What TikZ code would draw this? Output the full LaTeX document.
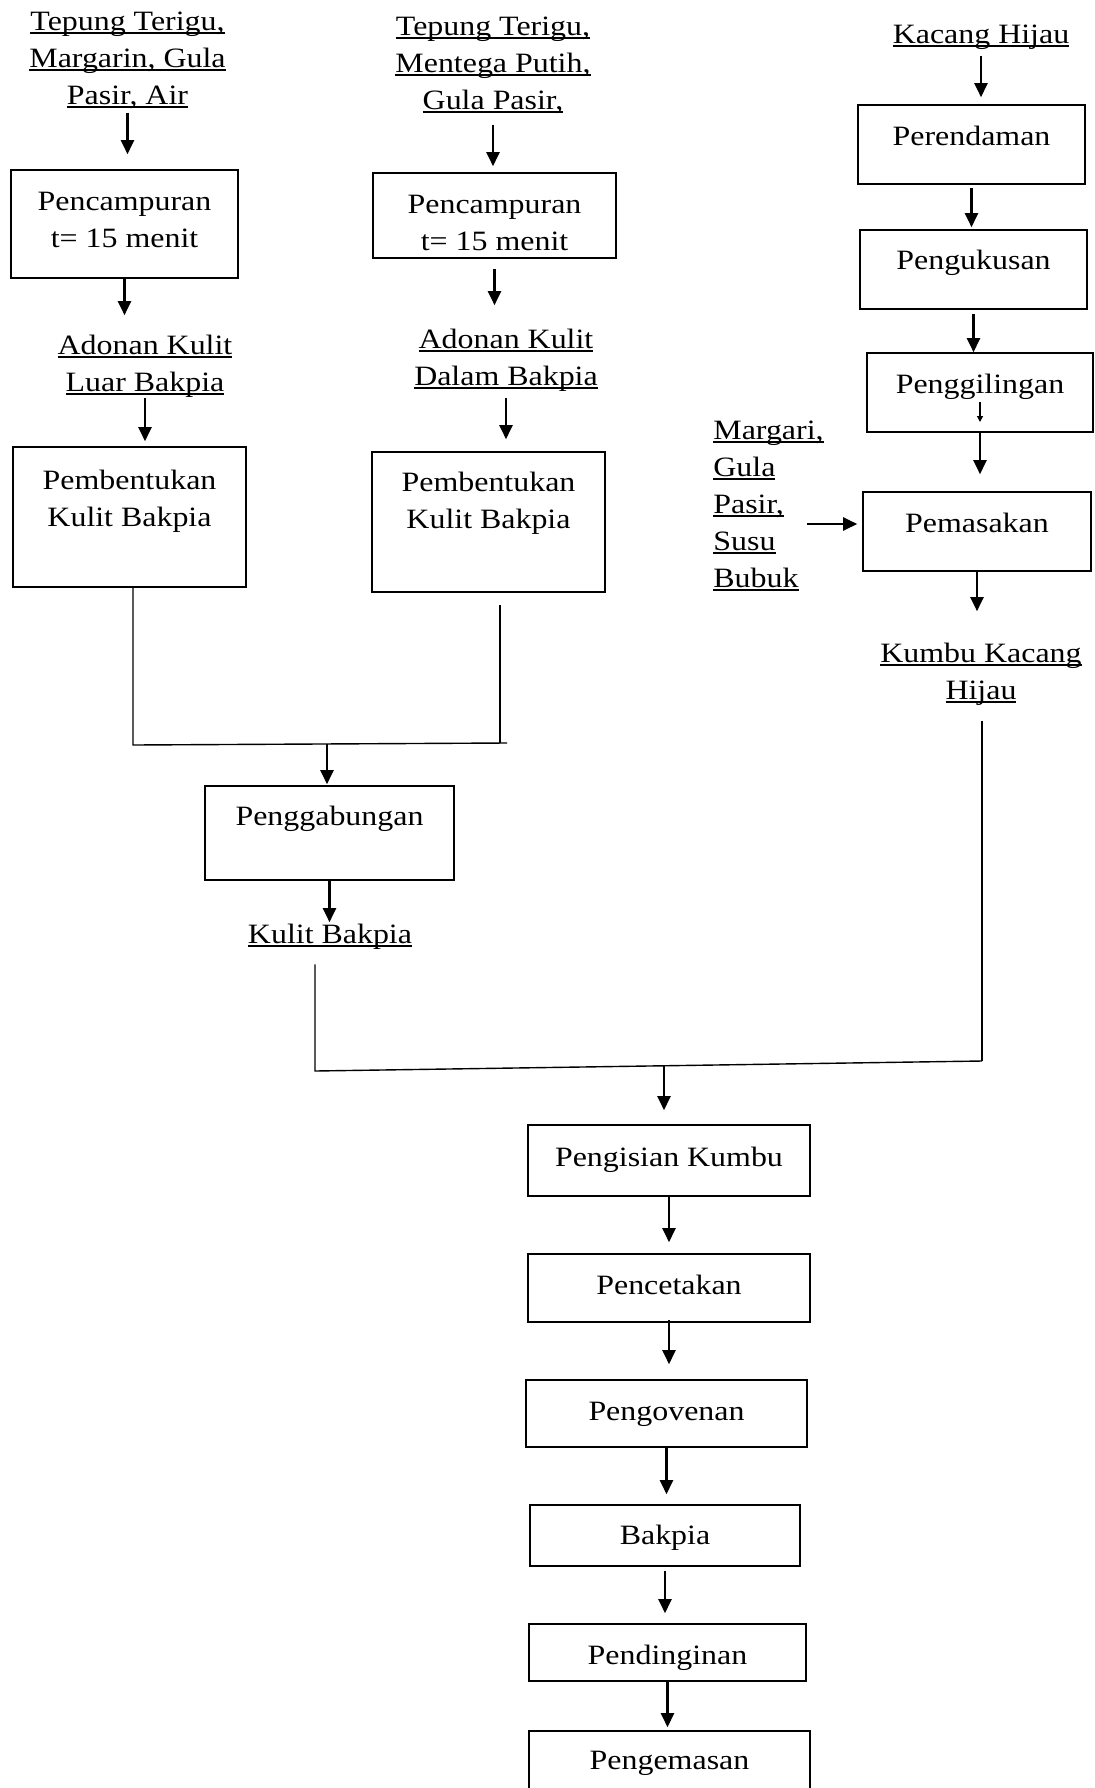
\documentclass[tikz,border=0pt]{standalone}
\usepackage{fontspec}
\setmainfont{Liberation Serif}[FakeStretch=1.14]
\newcommand{\uln}[1]{{\setbox0\hbox{#1}\rlap{\rule[-2.15pt]{\wd0}{1pt}}\box0}}
\usetikzlibrary{arrows.meta, positioning}

\begin{document}
\begin{tikzpicture}[x=0.5pt, y=-0.5pt,
    font=\fontsize{14}{18.5}\selectfont,
    procbox/.style={draw, line width=0.8pt, rectangle, inner sep=0pt, align=center, anchor=base},
    inlabel/.style={inner sep=0pt, align=center, anchor=base},
    arr/.style={-{Triangle[length=7pt,width=6.5pt]}, line width=1.1pt},
    joinline/.style={line width=0.7pt}]
\useasboundingbox (0,0) rectangle (1094,1788);

% Kulit luar (base = last line)
\node[inlabel] (in1) at (127.5,104) {\uln{Tepung Terigu,}\\\uln{Margarin, Gula}\\\uln{Pasir, Air}};
\node[procbox, minimum width=113.5pt, text height=38.5pt, text depth=15.5pt] (campur1) at (124.5,247) {Pencampuran\\t= 15 menit};
\node[inlabel] (adonan1) at (145,391) {\uln{Adonan Kulit}\\\uln{Luar Bakpia}};
\node[procbox, minimum width=116.5pt, text height=39.5pt, text depth=30.5pt] (bentuk1) at (129.5,526) {Pembentukan\\Kulit Bakpia};

\draw[arr, shorten <=2pt, shorten >=7.5pt] (in1.south) -- (in1.south |- campur1.north);
\draw[arr, shorten >=9.5pt] (campur1.south) -- (campur1.south |- adonan1.north);
\draw[arr, shorten <=0.5pt, shorten >=2.5pt] (adonan1.south) -- (adonan1.south |- bentuk1.north);

% Kulit dalam
\node[inlabel] (in2) at (493,109) {\uln{Tepung Terigu,}\\\uln{Mentega Putih,}\\\uln{Gula Pasir,}};
\node[procbox, minimum width=121.5pt, text height=38.5pt, text depth=4pt] (campur2) at (494.5,250) {Pencampuran\\t= 15 menit};
\node[inlabel] (adonan2) at (506,385) {\uln{Adonan Kulit}\\\uln{Dalam Bakpia}};
\node[procbox, minimum width=116.5pt, text height=38pt, text depth=32pt] (bentuk2) at (488.5,528) {Pembentukan\\Kulit Bakpia};

\draw[arr, shorten <=5.5pt, shorten >=3pt] (in2.south) -- (in2.south |- campur2.north);
\draw[arr, shorten <=5pt, shorten >=11.5pt] (campur2.south) -- (campur2.south |- adonan2.north);
\draw[arr, shorten <=3.5pt, shorten >=6pt] (adonan2.south) -- (adonan2.south |- bentuk2.north);

% Penggabungan kulit
\coordinate (j1L) at (133,745);
\coordinate (j1R) at (507,743);
\coordinate (j1V) at (500,743);
\coordinate (j1M) at (327,744);
\node[procbox, minimum width=124.5pt, text height=19.5pt, text depth=27.5pt] (gabung) at (329.5,825) {Penggabungan};
\node[inlabel] (kulit) at (330,943) {\uln{Kulit Bakpia}};

\draw[joinline] (bentuk1.south -| j1L) -- (j1L) -- (j1R);
\draw[joinline, shorten <=6pt] (bentuk2.south -| j1V) -- (j1V);
\draw[arr, shorten >=0.5pt] (j1M) -- (j1M |- gabung.north);
\draw[arr, shorten >=0.5pt] (gabung.south) -- (gabung.south |- kulit.north);

% Kumbu kacang hijau
\node[inlabel] (kacang) at (981,43) {\uln{Kacang Hijau}};
\node[procbox, minimum width=113.5pt, text height=20pt, text depth=19.5pt] (rendam) at (971.5,145) {Perendaman};
\node[procbox, minimum width=113.5pt, text height=19.5pt, text depth=20pt] (kukus) at (973.5,269) {Pengukusan};
\node[procbox, minimum width=113pt, text height=20pt, text depth=19.5pt] (giling) at (980,393) {Penggilingan};
\node[procbox, minimum width=114pt, text height=20pt, text depth=19.5pt] (masak) at (977,532) {Pemasakan};
\node[inlabel, align=left, anchor=base west] (bahan) at (713,587) {\uln{Margari,}\\\uln{Gula}\\\uln{Pasir,}\\\uln{Susu}\\\uln{Bubuk}};
\node[inlabel] (kumbu) at (981,699) {\uln{Kumbu Kacang}\\\uln{Hijau}};
\coordinate (bahanarr) at (807,524);

\draw[arr, shorten <=3.5pt, shorten >=3.5pt] (kacang.south) -- (kacang.south |- rendam.north);
\draw[arr, shorten <=1.5pt, shorten >=1pt] (rendam.south) -- (rendam.south |- kukus.north);
\draw[arr, shorten <=2pt] (kukus.south) -- (kukus.south |- giling.north);
\draw[-{Triangle[length=3pt,width=3pt]}, line width=0.6pt] ([yshift=-4.5pt]giling.base) -- ([yshift=-14.5pt]giling.base);
\draw[arr, shorten >=8.5pt] (giling.south) -- (giling.south |- masak.north);
\draw[arr, shorten >=2.5pt] (bahanarr) -- (bahanarr -| masak.west);
\draw[arr, shorten >=15.5pt] (masak.south) -- (masak.south |- kumbu.north);

% Pengisian sampai pengemasan
\coordinate (j2L) at (315,1071);
\coordinate (j2R) at (982,1061);
\coordinate (j2M) at (664,1066);
\node[procbox, minimum width=141pt, text height=20.5pt, text depth=15pt] (isi) at (669,1166) {Pengisian Kumbu};
\node[procbox, minimum width=141pt, text height=20pt, text depth=14pt] (cetak) at (669,1294) {Pencetakan};
\node[procbox, minimum width=140.5pt, text height=20pt, text depth=13.5pt] (oven) at (666.5,1420) {Pengovenan};
\node[procbox, minimum width=135pt, text height=19.5pt, text depth=11pt] (bakpia) at (665,1544) {Bakpia};
\node[procbox, minimum width=138.5pt, text height=20pt, text depth=8.5pt] (dingin) at (667.5,1664) {Pendinginan};
\node[procbox, minimum width=140.5pt, text height=19pt, text depth=22pt] (kemas) at (669.5,1769) {Pengemasan};

\draw[joinline, shorten <=7.5pt] (kulit.south -| j2L) -- (j2L) -- (j2R);
\draw[joinline, shorten <=8pt] (kumbu.south -| j2R) -- (j2R);
\draw[arr, shorten >=7pt] (j2M) -- (j2M |- isi.north);
\draw[arr, shorten >=5.5pt] (isi.south) -- (isi.south |- cetak.north);
\draw[arr, shorten <=-1.5pt, shorten >=7.5pt] (cetak.south) -- (cetak.south |- oven.north);
\draw[arr, shorten >=5pt] (oven.south) -- (oven.south |- bakpia.north);
\draw[arr, shorten <=2pt, shorten >=5pt] (bakpia.south) -- (bakpia.south |- dingin.north);
\draw[arr, shorten >=1.5pt] (dingin.south) -- (dingin.south |- kemas.north);
\end{tikzpicture}
\end{document}
